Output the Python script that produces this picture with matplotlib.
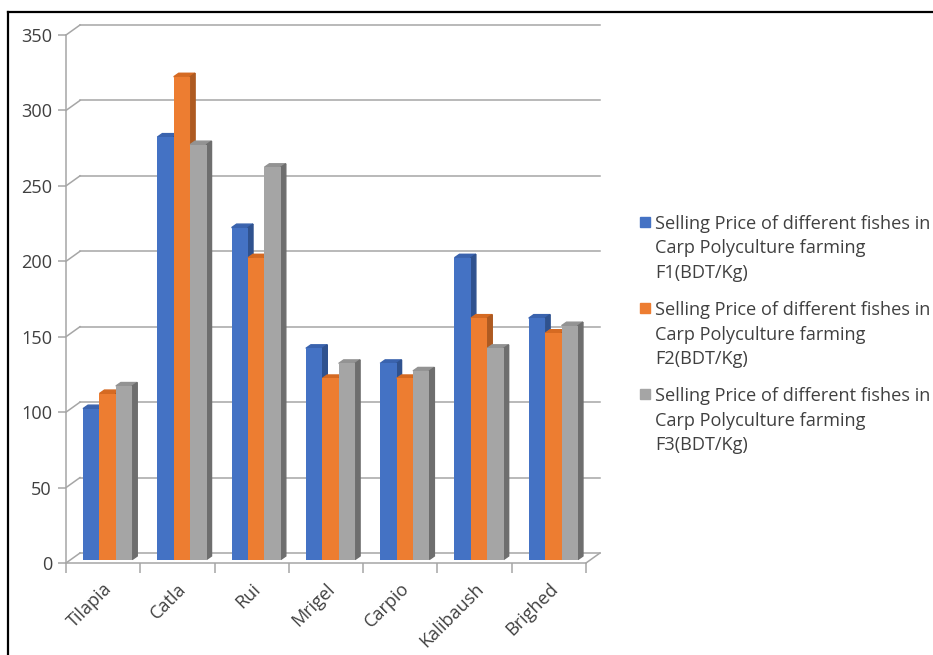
import matplotlib.pyplot as plt
from matplotlib.patches import Polygon, Rectangle
from matplotlib.lines import Line2D

# data
fishes = ["Tilapia", "Catla", "Rui", "Mrigel", "Carpio", "Kalibaush", "Brighed"]
f1 = [100, 280, 220, 140, 130, 200, 160]
f2 = [110, 320, 200, 120, 120, 160, 150]
f3 = [115, 275, 260, 130, 125, 140, 155]
labels = ["Selling Price of different fishes in\nCarp Polyculture farming\nF1(BDT/Kg)",
          "Selling Price of different fishes in\nCarp Polyculture farming\nF2(BDT/Kg)",
          "Selling Price of different fishes in\nCarp Polyculture farming\nF3(BDT/Kg)"]
yticks = [0, 50, 100, 150, 200, 250, 300, 350]

front = ["#4472C4", "#ED7D31", "#A5A5A5"]
top_c = ["#3A63AE", "#D56A22", "#939393"]
side_c = ["#2F528F", "#AE5A21", "#6E6E6E"]
grid_c = "#A6A6A6"
txt_c = "#404040"
fs = 13.1

plt.rcParams['font.family'] = ['Open Sans', 'DejaVu Sans']
W, H = 933, 655
fig = plt.figure(figsize=(W / 100, H / 100), dpi=100)

# axes span pixel x 66..600, y 25..563
ax = fig.add_axes([66 / W, (H - 563) / H, (600 - 66) / W, (563 - 25) / H])
n = len(fishes)
pxu_x = (600 - 66) / (n + 0.19)
DX = 14 / pxu_x          # wall depth in x data units
ymax = 350
pxu_y = (563 - 25) / (ymax + 6.6)
DY = 10 / pxu_y          # wall depth in value units
ax.set_xlim(-0.5, n - 0.5 + DX)
ax.set_ylim(0, ymax + DY)

for s in ["top", "right", "bottom", "left"]:
    ax.spines[s].set_visible(False)

# back wall gridlines and side wall diagonals
for v in yticks:
    ax.plot([-0.5 + DX, n - 0.5 + DX], [v + DY, v + DY], color=grid_c, lw=1.1, zorder=1, clip_on=False)
    ax.plot([-0.5, -0.5 + DX], [v, v + DY], color=grid_c, lw=1.1, zorder=1, clip_on=False)
# front floor edge and right floor edge
ax.plot([-0.5, n - 0.5], [0, 0], color=grid_c, lw=1.1, zorder=1, clip_on=False)
ax.plot([n - 0.5, n - 0.5 + DX], [0, DY], color=grid_c, lw=1.1, zorder=1, clip_on=False)
ax.plot([-0.5, -0.5], [0, ymax], color=grid_c, lw=1.1, zorder=1, clip_on=False)

# y ticks / labels
ax.set_yticks(yticks)
ax.set_yticklabels([str(v) for v in yticks])
ax.tick_params(axis='y', length=6, color=grid_c, width=1.1, labelsize=fs, labelcolor=txt_c, pad=4)

# x ticks at category boundaries, labels at centers
ax.set_xticks(range(n))
ax.set_xticklabels(fishes, rotation=45, ha='right', rotation_mode='anchor')
ax.set_xticks([i - 0.5 for i in range(n + 1)], minor=True)
ax.tick_params(axis='x', which='major', length=0, labelsize=fs, labelcolor=txt_c, pad=12)
ax.tick_params(axis='x', which='minor', length=7, color=grid_c, width=1.1)

# 3D-looking bars
w = 16.4 / pxu_x
BX = 4.5 / pxu_x
BY = 3.5 / pxu_y
ddx = 5 / pxu_x
ddy = 3.5 / pxu_y
for j, vals in enumerate([f1, f2, f3]):
    xs = [i - 1.5 * w + j * w + BX for i in range(n)]
    ax.bar(xs, vals, width=w, bottom=BY, align='edge', color=front[j], zorder=4 + 2 * j, clip_on=False)
    for x0, v in zip(xs, vals):
        x1 = x0 + w
        y0, y1 = BY, BY + v
        ax.add_patch(Polygon([(x0, y1), (x1, y1), (x1 + ddx, y1 + ddy), (x0 + ddx, y1 + ddy)],
                             closed=True, color=top_c[j], zorder=3 + 2 * j, clip_on=False))
        ax.add_patch(Polygon([(x1, y0), (x1 + ddx, y0 + ddy), (x1 + ddx, y1 + ddy), (x1, y1)],
                             closed=True, color=side_c[j], zorder=3 + 2 * j, clip_on=False))

# legend, marker beside first line of each entry
for j, lab in enumerate(labels):
    cy = 222 + 86 * j
    fig.add_artist(Rectangle(((640) / W, (H - cy - 5) / H), 10 / W, 10 / H,
                             transform=fig.transFigure, color=front[j]))
    for k, line in enumerate(lab.split("\n")):
        fig.text(655 / W, (H - (cy + 24.5 * k)) / H, line, fontsize=fs, color=txt_c,
                 ha='left', va='center_baseline')

# outer frame (left and top edges)
fig.add_artist(Line2D([8 / W, 8 / W], [0, (H - 12) / H], color='black', lw=1.6, transform=fig.transFigure))
fig.add_artist(Line2D([8 / W, 1], [(H - 12) / H, (H - 12) / H], color='black', lw=1.6, transform=fig.transFigure))

fig.savefig("out.png", dpi=100)
